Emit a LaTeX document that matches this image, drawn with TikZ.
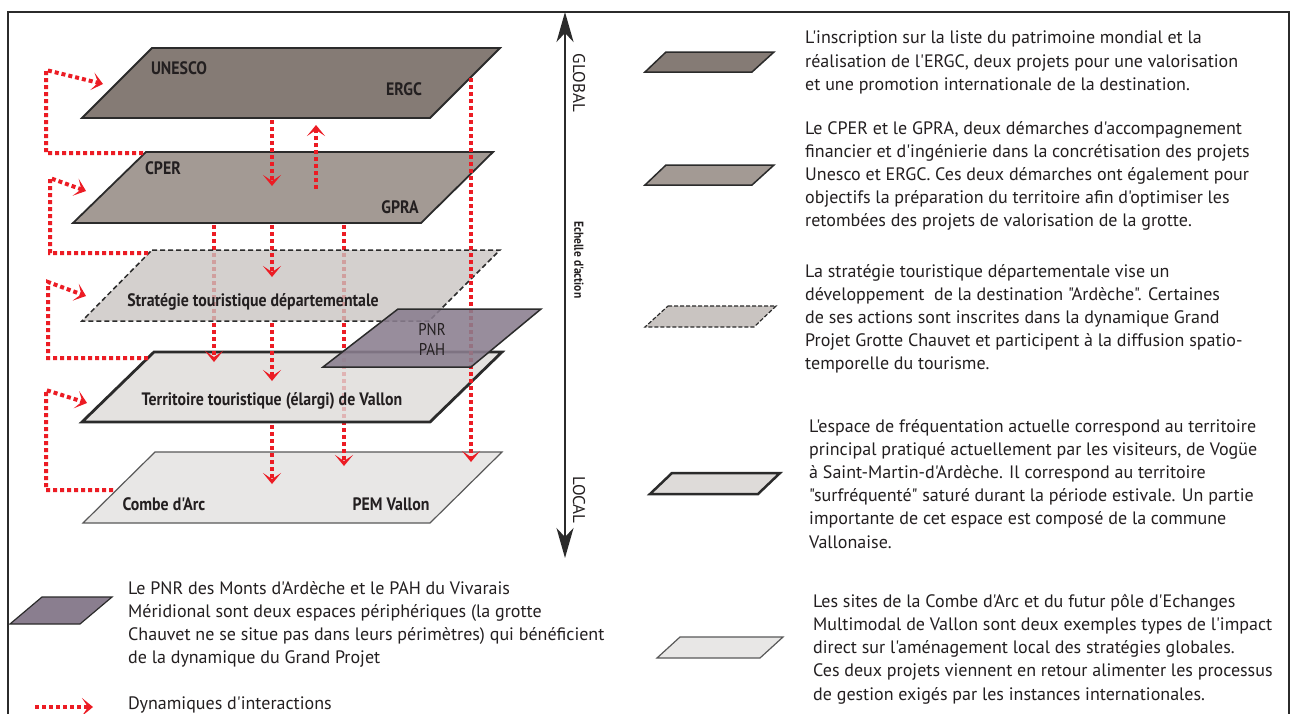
\documentclass[tikz,border=0pt]{standalone}
\usepackage{fontspec}
\setmainfont{PT Sans}[Ligatures=TeXOff]
\newfontfamily\condfont[FakeStretch=0.88,Ligatures=TeXOff]{PT Sans}
\usetikzlibrary{arrows.meta}
\definecolor{redc}{HTML}{EC1C24}
\definecolor{edgec}{HTML}{2B2B2B}
\definecolor{textc}{HTML}{231F20}
\definecolor{cone}{HTML}{857B75}
\definecolor{ctwo}{HTML}{A39A94}
\definecolor{cthree}{HTML}{C9C4C1}
\definecolor{cfour}{HTML}{DEDBD9}
\definecolor{cfive}{HTML}{E8E7E6}
\definecolor{csix}{HTML}{8A7E8F}
\tikzset{
  plane/.style={draw=edgec, line width=1.8pt, line join=miter},
  lab/.style={font=\condfont\bfseries\fontsize{18}{18}\selectfont, text=textc, inner sep=0},
  leg/.style={font=\fontsize{18}{23.2}\selectfont, align=left, anchor=north west, inner sep=0, text=textc},
  dyn/.style={draw=redc, line width=4pt, dash pattern=on 4pt off 3pt,
    -{Stealth[length=11pt,width=18pt,inset=6pt]}},
  axis/.style={draw=edgec, line width=1.8pt,
    {Stealth[length=30pt,width=17pt,inset=9pt]}-{Stealth[length=30pt,width=17pt,inset=9pt]}}
}
\begin{document}
\begin{tikzpicture}[x=1pt,y=-1pt]
\useasboundingbox (0,0) rectangle (1291,713);
\clip (0,0) rectangle (1291,713);
\fill[white] (0,0) rectangle (1291,713);
% frame
\draw[edgec, line width=2.5pt] (8,730) -- (8,12) -- (1289,12) -- (1289,730);

% coordinates for connectors
\coordinate (pA1) at (272,120); \coordinate (pA2) at (272,186);
\coordinate (pB1) at (316,189); \coordinate (pB2) at (316,125);
\coordinate (pC1) at (471,78);  \coordinate (pC2) at (471,462);
\coordinate (pD1) at (344,225); \coordinate (pD2) at (344,466);
\coordinate (pE1) at (214,225); \coordinate (pE2) at (214,362);
\coordinate (pF1) at (272,225); \coordinate (pF2) at (272,277);
\coordinate (pG1) at (272,323); \coordinate (pG2) at (272,381);
\coordinate (pH1) at (272,425); \coordinate (pH2) at (272,484);

% local plane
\path[plane, draw=gray!70!black, line width=1.2pt, fill=cfive] (155,452) -- (502,452) -- (430,523) -- (83,523) -- cycle;
\draw[dyn] (pD1) -- (pD2);
% territoire
\path[plane, line width=2.8pt, fill=cfour, fill opacity=0.8] (154,352) -- (502,352) -- (430,422) -- (82,422) -- cycle;
\draw[dyn] (pE1) -- (pE2);
% strategie
\path[plane, line width=1.5pt, dash pattern=on 5pt off 3pt, fill=cthree, fill opacity=0.78] (152,250) -- (500,250) -- (429,321) -- (82,321) -- cycle;
% CPER
\path[plane, fill=ctwo] (146,152) -- (493,152) -- (421,223) -- (73,223) -- cycle;
% UNESCO
\path[plane, fill=cone] (152,48) -- (500,48) -- (430,118) -- (82,118) -- cycle;

\draw[dyn] (pA1) -- (pA2);
\draw[dyn] (pB1) -- (pB2);
\draw[dyn] (pC1) -- (pC2);
\draw[dyn] (pF1) -- (pF2);
\draw[dyn] (pG1) -- (pG2);
\draw[dyn] (pH1) -- (pH2);

% PNR / PAH
\path[plane, line width=1.5pt, fill=csix, fill opacity=0.88] (398,309) -- (541,309) -- (471,367) -- (323,367) -- cycle;

% left loops
\coordinate (lA1) at (143,153); \coordinate (lA2) at (103,84);
\coordinate (lB1) at (148,253); \coordinate (lB2) at (86,191);
\coordinate (lC1) at (148,358); \coordinate (lC2) at (86,296);
\coordinate (lD1) at (113,490); \coordinate (lD2) at (87,403);
\draw[dyn] (lA1) -- (46,153) -- (46,70) -- (lA2);
\draw[dyn] (lB1) -- (50,253) -- (50,178) -- (lB2);
\draw[dyn] (lC1) -- (48,358) -- (48,282) -- (lC2);
\draw[dyn] (lD1) -- (46,490) -- (46,390) -- (lD2);

% plane labels
\node[lab] (unesco) at (179,68) {UNESCO};
\node[lab] (ergc) at (404,89) {ERGC};
\node[lab] (cper) at (163,168) {CPER};
\node[lab] (gpra) at (400,207) {GPRA};
\node[lab] (strat) at (253,302) {Stratégie touristique départementale};
\node[lab] (terr) at (272,401) {Territoire touristique (élargi) de Vallon};
\node[lab] (combe) at (164,504) {Combe d'Arc};
\node[lab] (pem) at (391,504) {PEM Vallon};
\node[lab, font=\condfont\fontsize{17}{17}\selectfont] (pnr) at (432,330) {PNR};
\node[lab, font=\condfont\fontsize{17}{17}\selectfont] (pah) at (432,349) {PAH};

% axis
\coordinate (axT) at (565,12); \coordinate (axB) at (565,558);
\draw[axis] (axT) -- (axB);
\node[rotate=-90, font=\fontsize{17}{17}\selectfont, text=textc] (glob) at (579,83) {GLOBAL};
\node[rotate=-90, font=\condfont\bfseries\fontsize{13}{13}\selectfont, text=textc] (ech) at (579,260) {Echelle d'action};
\node[rotate=-90, font=\fontsize{17}{17}\selectfont, text=textc] (loc) at (579,500) {LOCAL};

% legend shapes right
\path[plane, line width=1.5pt, fill=cone] (666,52) -- (774,52) -- (752,72) -- (645,72) -- cycle;
\path[plane, line width=1.5pt, fill=ctwo] (666,165) -- (774,165) -- (752,185) -- (645,185) -- cycle;
\path[plane, line width=1.2pt, dash pattern=on 4pt off 2pt, fill=cthree] (668,306) -- (776,306) -- (754,327) -- (645,327) -- cycle;
\path[plane, line width=2.5pt, fill=cfour] (672,473) -- (780,473) -- (758,494) -- (650,494) -- cycle;
\path[plane, draw=gray!70!black, line width=1.2pt, fill=cfive] (680,637) -- (783,637) -- (760,658) -- (657,658) -- cycle;
\path[plane, line width=1.2pt, fill=csix] (42,597) -- (112,597) -- (80,624) -- (10,624) -- cycle;

% legend texts
\node[leg] (t1) at (805,31) {L'inscription sur la liste du patrimoine mondial et la\\réalisation de l'ERGC, deux projets pour une valorisation\\et une promotion internationale de la destination.};
\node[leg] (t2) at (805,121) {Le CPER et le GPRA, deux démarches d'accompagnement\\financier et d'ingénierie dans la concrétisation des projets\\Unesco et ERGC. Ces deux démarches ont également pour\\objectifs la préparation du territoire afin d'optimiser les\\retombées des projets de valorisation de la grotte.};
\node[leg] (t3) at (805,264) {La stratégie touristique départementale vise un\\développement\ \ de la destination "Ardèche". Certaines\\de ses actions sont inscrites dans la dynamique Grand\\Projet Grotte Chauvet et participent à la diffusion spatio-\\temporelle du tourisme.};
\node[leg] (t4) at (809,419) {L'espace de fréquentation actuelle correspond au territoire\\principal pratiqué actuellement par les visiteurs, de Vogüe\\à Saint-Martin-d'Ardèche. Il correspond au territoire\\"surfréquenté" saturé durant la période estivale. Un partie\\importante de cet espace est composé de la commune\\Vallonaise.};
\node[leg] (t5) at (813,594) {Les sites de la Combe d'Arc et du futur pôle d'Echanges\\Multimodal de Vallon sont deux exemples types de l'impact\\direct sur l'aménagement local des stratégies globales.\\Ces deux projets viennent en retour alimenter les processus\\de gestion exigés par les instances internationales.};
\node[leg] (t6) at (128,581) {Le PNR des Monts d'Ardèche et le PAH du Vivarais\\Méridional sont deux espaces périphériques (la grotte\\Chauvet ne se situe pas dans leurs périmètres) qui bénéficient\\de la dynamique du Grand Projet};
\node[leg] (t7) at (128,697) {Dynamiques d'interactions};
\coordinate (dA) at (35,707); \coordinate (dB) at (93,707);
\draw[dyn] (dA) -- (dB);
\end{tikzpicture}
\end{document}
